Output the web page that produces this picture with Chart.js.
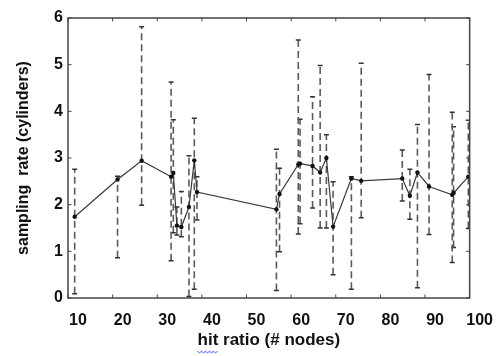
<!DOCTYPE html>
<html><head><meta charset="utf-8">
<script src="https://cdn.jsdelivr.net/npm/chart.js@4/dist/chart.umd.min.js"></script>
<style>html,body{margin:0;padding:0;background:#fff;}#wrap{width:496px;height:356px;}</style>
</head><body><div id="wrap"><canvas id="c" width="496" height="356"></canvas></div>
<script>
// x positions (hit ratio, # nodes) of each measured point
const xValues = [11.5, 21.1, 26.5, 33.1, 33.6, 34.4, 35.4, 37.1, 38.3, 38.9, 56.7, 57.4, 61.6, 62.0, 64.8, 66.5, 67.9, 69.4, 73.5, 75.7, 84.9, 86.6, 88.3, 90.9, 96.1, 96.4, 99.7];
// mean sampling rate (cylinders)
const yValues = [1.74, 2.54, 2.94, 2.60, 2.68, 1.55, 1.52, 1.95, 2.95, 2.27, 1.90, 2.23, 2.86, 2.88, 2.83, 2.69, 3.00, 1.53, 2.56, 2.51, 2.56, 2.19, 2.69, 2.39, 2.21, 2.25, 2.60];
// error bar lower / upper ends
const lowValues = [0.09, 0.86, 1.99, 0.80, 1.40, 1.35, 1.31, 0.03, 0.19, 1.67, 0.16, 0.99, 1.37, 1.59, 1.93, 1.50, 1.50, 0.50, 0.19, 1.72, 2.08, 1.69, 0.22, 1.36, 0.76, 1.08, 1.49];
const highValues = [2.76, 2.61, 5.81, 4.63, 3.82, 1.95, 2.28, 3.05, 3.85, 2.60, 3.19, 2.78, 5.53, 3.83, 4.31, 4.98, 3.50, 2.49, 2.60, 5.03, 3.17, 2.76, 3.72, 4.79, 3.98, 3.67, 3.81];
const xTickLabels = ['10','20','30','40','50','60','70','80','90','100'];
const yTickLabels = ['0','1','2','3','4','5','6'];
const xTitle = 'hit ratio (# nodes)';
const yTitle = 'sampling  rate (cylinders)';

const FONT = '"Liberation Sans", Arial, sans-serif';

const errorSets = xValues.map((xv, i) => ({
  type: 'line',
  data: [{x: xv, y: lowValues[i]}, {x: xv, y: highValues[i]}],
  borderColor: '#5a5a5a',
  borderWidth: 1.6,
  borderDash: [7, 4],
  pointStyle: 'line',
  pointRadius: 2.5,
  pointBorderColor: '#333',
  pointBorderWidth: 1.5,
  fill: false,
  order: 2
}));

const mainSet = {
  type: 'line',
  data: xValues.map((xv, i) => ({x: xv, y: yValues[i]})),
  borderColor: '#3a3a3a',
  borderWidth: 1.2,
  pointRadius: 2.2,
  pointBackgroundColor: '#111',
  pointBorderColor: '#111',
  pointBorderWidth: 0,
  tension: 0,
  fill: false,
  order: 1
};

const framePlugin = {
  id: 'frame',
  afterDatasetsDraw(chart) {
    const {ctx, chartArea: a, scales: {x, y}} = chart;
    ctx.save();
    ctx.strokeStyle = '#444';
    ctx.lineWidth = 1.5;
    ctx.strokeRect(a.left, a.top, a.right - a.left, a.bottom - a.top);
    ctx.lineWidth = 1;
    const t = 3.5;
    ctx.beginPath();
    x.ticks.forEach(tk => {
      const px = x.getPixelForValue(tk.value);
      ctx.moveTo(px, a.bottom); ctx.lineTo(px, a.bottom - t);
      ctx.moveTo(px, a.top); ctx.lineTo(px, a.top + t);
    });
    y.ticks.forEach(tk => {
      const py = y.getPixelForValue(tk.value);
      ctx.moveTo(a.left, py); ctx.lineTo(a.left + t, py);
      ctx.moveTo(a.right, py); ctx.lineTo(a.right - t, py);
    });
    ctx.stroke();
    // spell-check squiggle under "hit" in the x title
    ctx.font = 'bold 17px ' + FONT;
    const w = ctx.measureText(xTitle).width;
    const hw = ctx.measureText('hit').width;
    const sx = (x.left + x.right) / 2 - w / 2;
    const sy = x.bottom - 3 - 10.2 + 10.5;
    ctx.strokeStyle = '#3b5bd6';
    ctx.lineWidth = 1;
    ctx.beginPath();
    for (let k = 0; k <= hw; k += 2) {
      const yy = sy + ((k / 2) % 2 === 0 ? 0 : 1.5);
      if (k === 0) ctx.moveTo(sx + k, yy); else ctx.lineTo(sx + k, yy);
    }
    ctx.stroke();
    ctx.restore();
  }
};

new Chart(document.getElementById('c'), {
  type: 'line',
  data: { datasets: [mainSet, ...errorSets] },
  options: {
    responsive: false,
    animation: false,
    devicePixelRatio: 1,
    layout: { padding: { left: 4, right: 15, top: 18, bottom: 2 } },
    plugins: { legend: { display: false }, tooltip: { enabled: false } },
    scales: {
      x: {
        type: 'linear',
        min: 10, max: 100,
        afterBuildTicks: (s) => { s.ticks = xTickLabels.map(v => ({value: Number(v)})); },
        afterFit: (s) => { s.height = 56; },
        grid: { display: false, drawTicks: false },
        border: { display: false },
        ticks: {
          labelOffset: 10,
          padding: 13,
          color: '#111',
          font: { family: FONT, size: 16, weight: 'bold' },
          maxRotation: 0,
          autoSkip: false,
          callback: (v, i) => xTickLabels[i]
        },
        title: {
          display: true, text: xTitle, color: '#111',
          font: { family: FONT, size: 17, weight: 'bold' },
          padding: { top: 0, bottom: 3 }
        }
      },
      y: {
        type: 'linear',
        min: 0, max: 6,
        afterBuildTicks: (s) => { s.ticks = yTickLabels.map(v => ({value: Number(v)})); },
        afterFit: (s) => { s.width = 64; },
        grid: { display: false, drawTicks: false },
        border: { display: false },
        ticks: {
          padding: 5,
          color: '#111',
          font: { family: FONT, size: 16, weight: 'bold' },
          callback: (v, i) => yTickLabels[i]
        },
        title: {
          display: true, text: yTitle, color: '#111',
          font: { family: FONT, size: 16, weight: 'bold' },
          padding: { top: 10, bottom: 0 }
        }
      }
    }
  },
  plugins: [framePlugin]
});
</script>
</body></html>
